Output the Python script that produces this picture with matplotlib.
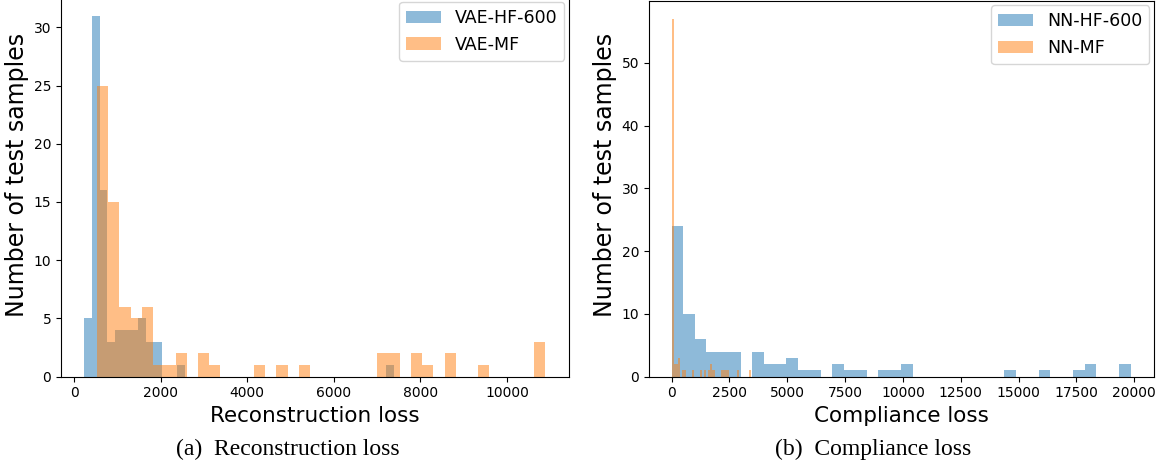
import numpy as np
import matplotlib
matplotlib.use("Agg")
import matplotlib.pyplot as plt

# ---------------- data (bin counts) ----------------
# (a) Reconstruction loss: 40 bins per series over each series' own range
recon_hf_range = (231, 7392)
recon_hf_counts = [5, 31, 16, 3, 4, 4, 4, 5, 3, 3, 0, 0, 1,
                   0, 0, 0, 0, 0, 0, 0, 0, 0, 0, 0, 0, 0, 0, 0, 0, 0, 0, 0, 0,
                   0, 0, 0, 0, 0, 0, 1]
recon_mf_range = (531, 10885)
recon_mf_counts = [25, 15, 6, 5, 6, 1, 1, 2, 0, 2, 1, 0, 0, 0, 1, 0, 1, 0, 1,
                   0, 0, 0, 0, 0, 0, 2, 2, 0, 2, 1, 0, 2, 0, 0, 1, 0, 0, 0, 0, 3]

# (b) Compliance loss
comp_hf_range = (5, 19845)
comp_hf_counts = [24, 10, 6, 4, 4, 4, 0, 4, 2, 2, 3, 1, 1, 0, 2, 1, 1, 0, 1, 1, 2,
                  0, 0, 0, 0, 0, 0, 0, 0, 1, 0, 0, 1, 0, 0, 1, 2, 0, 0, 2]
comp_mf_range = (10, 3440)
comp_mf_counts = [57, 2, 2, 3, 0, 1, 1, 0, 0, 0, 1, 0, 0, 0, 1, 0, 1, 0, 1, 2, 1,
                  1, 0, 0, 0, 1, 1, 1, 1, 0, 0, 0, 0, 1, 0, 0, 0, 0, 0, 1]

labels_a = ["VAE-HF-600", "VAE-MF"]
labels_b = ["NN-HF-600", "NN-MF"]
xlabel_a = "Reconstruction loss"
xlabel_b = "Compliance loss"
ylabel = "Number of test samples"
caption_a = "(a)  Reconstruction loss"
caption_b = "(b)  Compliance loss"

# ---------------- plotting ----------------
W, H = 1164, 465
fig = plt.figure(figsize=(W / 100, H / 100), dpi=100)

def px_axes(l, r, t, b):
    return [l / W, (H - b) / H, (r - l) / W, (b - t) / H]

ax1 = fig.add_axes(px_axes(61, 568.5, -2.4, 376.7))
ax2 = fig.add_axes(px_axes(648.8, 1153.5, 1.1, 376.7))

def draw_hist(ax, rng, counts, label):
    edges = np.linspace(rng[0], rng[1], len(counts) + 1)
    ax.hist(edges[:-1], bins=edges, weights=counts, alpha=0.5, label=label)

draw_hist(ax1, recon_hf_range, recon_hf_counts, labels_a[0])
draw_hist(ax1, recon_mf_range, recon_mf_counts, labels_a[1])
draw_hist(ax2, comp_hf_range, comp_hf_counts, labels_b[0])
draw_hist(ax2, comp_mf_range, comp_mf_counts, labels_b[1])

for ax, xl, ypos in ((ax1, xlabel_a, 0.533), (ax2, xlabel_b, 0.538)):
    ax.set_xlabel(xl, fontsize=15.5, labelpad=4)
    ax.set_ylabel(ylabel, fontsize=17, labelpad=3)
    ax.yaxis.label.set_y(ypos)
    ax.tick_params(labelsize=10)
    ax.legend(loc="upper right", fontsize=12.5, borderaxespad=0.25)

fig.text(288 / W, 1 - 449 / H, caption_a, family="Liberation Serif",
         fontsize=17, ha="center", va="center")
fig.text(873 / W, 1 - 449 / H, caption_b, family="Liberation Serif",
         fontsize=17, ha="center", va="center")

fig.savefig("out.png", dpi=100)
